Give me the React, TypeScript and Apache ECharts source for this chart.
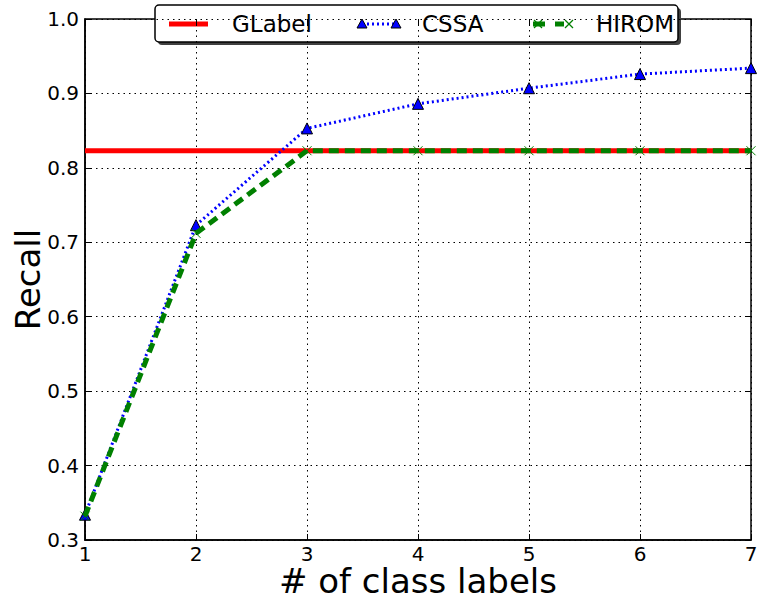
import React, { useEffect, useRef } from "react";
import * as echarts from "echarts";

const xValues = [1, 2, 3, 4, 5, 6, 7];
const glabel = [0.823, 0.823, 0.823, 0.823, 0.823, 0.823, 0.823];
const cssa = [0.334, 0.723, 0.853, 0.886, 0.907, 0.926, 0.934];
const hirom = [0.332, 0.712, 0.823, 0.823, 0.823, 0.823, 0.823];
const legendNames = ["GLabel", "CSSA", "HIROM"];

const FONT = "DejaVu Sans";
const X_MARK = "path://M0,0L10,10M10,0L0,10";

export default function App() {
  const ref = useRef<HTMLDivElement>(null);
  useEffect(() => {
    const chart = echarts.init(ref.current!, null, { renderer: "svg" });
    const pair = (arr: number[]) => arr.map((v, i) => [xValues[i], v]);
    const gridLine = { show: true, lineStyle: { color: "#000", type: [1.5, 4] as any, width: 1 } };
    const tick = { show: true, inside: true, length: 6, lineStyle: { color: "#000", width: 1 } };
    const xMark = (cx: number, cy: number) => [
      { type: "line", shape: { x1: cx - 4, y1: cy - 4, x2: cx + 4, y2: cy + 4 }, style: { stroke: "#008000", lineWidth: 1.2 } },
      { type: "line", shape: { x1: cx + 4, y1: cy - 4, x2: cx - 4, y2: cy + 4 }, style: { stroke: "#008000", lineWidth: 1.2 } },
    ];
    const tri = (cx: number, cy: number) => ({
      type: "polygon",
      shape: { points: [[cx, cy - 5], [cx - 5, cy + 4], [cx + 5, cy + 4]] },
      style: { fill: "#0000ff", stroke: "#000", lineWidth: 1 },
    });
    chart.setOption({
      animation: false,
      backgroundColor: "#fff",
      grid: {
        left: 85, right: 6, top: 19, bottom: 63, show: true, borderColor: "#000", borderWidth: 1.5,
        backgroundColor: "transparent", containLabel: false, outerBoundsMode: "none",
      },
      xAxis: [
        {
          type: "value", min: 1, max: 7, interval: 1,
          name: "# of class labels", nameLocation: "middle", nameGap: 27, nameMoveOverlap: false,
          nameTextStyle: { fontFamily: FONT, fontSize: 34, lineHeight: 28, color: "#000" },
          axisLine: { show: true, lineStyle: { color: "#000", width: 1.5 } },
          axisTick: tick,
          axisLabel: { fontFamily: FONT, fontSize: 20, lineHeight: 20, color: "#000", margin: 4 },
          splitLine: gridLine,
        },
        {
          type: "value", min: 1, max: 7, interval: 1, position: "top",
          axisLine: { show: false }, axisTick: tick, axisLabel: { show: false }, splitLine: { show: false },
        },
      ],
      yAxis: [
        {
          type: "value", min: 0.3, max: 1.0, interval: 0.1,
          name: "Recall", nameLocation: "middle", nameGap: 40, nameRotate: 90, nameMoveOverlap: false,
          nameTextStyle: { fontFamily: FONT, fontSize: 34, lineHeight: 34, color: "#000" },
          axisLine: { show: true, lineStyle: { color: "#000", width: 1.5 } },
          axisTick: tick,
          axisLabel: { fontFamily: FONT, fontSize: 20, lineHeight: 20, color: "#000", margin: 6, formatter: (v: number) => v.toFixed(1) },
          splitLine: gridLine,
        },
        {
          type: "value", min: 0.3, max: 1.0, interval: 0.1, position: "right",
          axisLine: { show: false }, axisTick: tick, axisLabel: { show: false }, splitLine: { show: false },
        },
      ],
      series: [
        {
          name: legendNames[0], type: "line", data: pair(glabel), showSymbol: false, symbol: "none",
          lineStyle: { color: "#ff0000", width: 5 }, z: 2,
        },
        {
          name: legendNames[1], type: "line", data: pair(cssa), symbol: "triangle", symbolSize: 11,
          itemStyle: { color: "#0000ff", borderColor: "#000", borderWidth: 1 },
          lineStyle: { color: "#0000ff", width: 3, type: [2, 3] as any }, z: 3,
        },
        {
          name: legendNames[2], type: "line", data: pair(hirom), symbol: X_MARK, symbolSize: 9,
          itemStyle: { color: "none", borderColor: "#008000", borderWidth: 1 },
          lineStyle: { color: "#008000", width: 5, type: [10, 6] as any }, z: 4,
        },
      ],
      graphic: [
        {
          type: "group", z: 100,
          children: [
            { type: "rect", shape: { x: 158, y: 8, width: 523, height: 37, r: 4 }, style: { fill: "#404040" } },
            { type: "rect", shape: { x: 155, y: 5, width: 523, height: 37, r: 4 }, style: { fill: "#fff", stroke: "#000", lineWidth: 1.5 } },
            { type: "line", shape: { x1: 169, y1: 24, x2: 208, y2: 24 }, style: { stroke: "#ff0000", lineWidth: 5 } },
            { type: "text", x: 232, y: 24, style: { text: legendNames[0], font: `23px '${FONT}'`, fill: "#000", verticalAlign: "middle" } },
            { type: "line", shape: { x1: 362, y1: 24, x2: 396, y2: 24 }, style: { stroke: "#0000ff", lineWidth: 3, lineDash: [2, 3] } },
            tri(362, 24),
            tri(396, 24),
            { type: "text", x: 422, y: 24, style: { text: legendNames[1], font: `23px '${FONT}'`, fill: "#000", verticalAlign: "middle" } },
            { type: "line", shape: { x1: 533, y1: 24, x2: 545, y2: 24 }, style: { stroke: "#008000", lineWidth: 5 } },
            { type: "line", shape: { x1: 555, y1: 24, x2: 564, y2: 24 }, style: { stroke: "#008000", lineWidth: 5 } },
            ...xMark(538, 24),
            ...xMark(569, 24),
            { type: "text", x: 596, y: 24, style: { text: legendNames[2], font: `23px '${FONT}'`, fill: "#000", verticalAlign: "middle" } },
          ],
        },
      ],
    });
    return () => chart.dispose();
  }, []);
  return <div ref={ref} style={{ width: 757, height: 603, position: "absolute", left: 0, top: 0 }} />;
}
